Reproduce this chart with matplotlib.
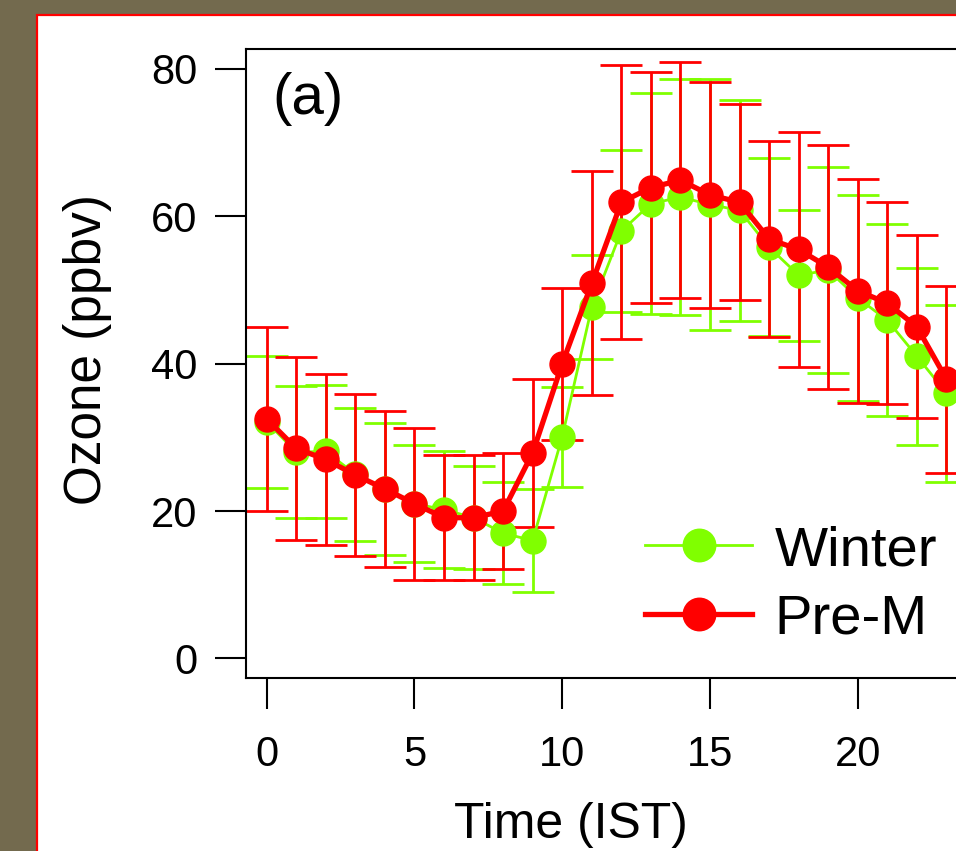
import matplotlib
matplotlib.use('Agg')
import matplotlib.pyplot as plt
from matplotlib.patches import Rectangle

plt.rcParams['font.family'] = ['Liberation Sans', 'DejaVu Sans']

# Diurnal ozone, hourly means and error bars (ppbv)
hours = list(range(24))
winter = [32.1, 28.0, 28.1, 25.0, 23.0, 21.0, 20.2, 19.1, 17.0, 16.0, 30.1, 47.7,
          58.0, 61.7, 62.6, 61.6, 60.8, 55.8, 52.0, 52.7, 48.9, 45.9, 41.0, 36.0]
winter_err = [9.0, 9.0, 9.0, 9.0, 8.9, 7.9, 7.9, 7.0, 6.9, 7.0, 6.8, 7.0,
              11.0, 15.0, 16.0, 17.0, 15.0, 12.1, 8.9, 14.0, 14.0, 13.0, 12.0, 12.0]
premon = [32.5, 28.5, 27.0, 24.9, 23.0, 21.0, 19.1, 19.1, 20.0, 27.9, 40.0, 50.9,
          61.9, 63.9, 64.9, 62.9, 61.9, 56.9, 55.5, 53.1, 49.9, 48.2, 45.0, 37.9]
premon_err = [12.5, 12.4, 11.6, 11.0, 10.6, 10.3, 8.5, 8.5, 7.9, 10.0, 10.3, 15.2,
              18.6, 15.7, 16.0, 15.3, 13.3, 13.3, 15.9, 16.6, 15.2, 13.7, 12.4, 12.7]
xticks = [0, 5, 10, 15, 20]
yticks = [0, 20, 40, 60, 80]

W, H = 956, 851
fig = plt.figure(figsize=(W / 100, H / 100), dpi=100, facecolor='#736A4E')

# white panel with red border, cut off at right and bottom
panel = Rectangle((37 / W, -0.1), 1.2, (H - 15) / H + 0.1,
                  transform=fig.transFigure, facecolor='white',
                  edgecolor='#FF0000', linewidth=1.6, zorder=-10)
fig.add_artist(panel)

ax_left, ax_right, ax_top, ax_bot = 246, 976, 49, 678
ax = fig.add_axes([ax_left / W, (H - ax_bot) / H,
                   (ax_right - ax_left) / W, (ax_bot - ax_top) / H])
ax.set_facecolor('none')

green = '#80FF00'
red = '#FF0000'
eb_w = ax.errorbar(hours, winter, yerr=winter_err, color=green, lw=2.0,
                   marker='o', ms=18, elinewidth=2.0, capsize=15, capthick=2.0)
eb_r = ax.errorbar(hours, premon, yerr=premon_err, color=red, lw=3.8,
                   marker='o', ms=18, elinewidth=2.0, capsize=15, capthick=2.0)

ax.set_xlim(-0.70, 24.0)
ax.set_ylim(-2.65, 82.7)
ax.set_xticks(xticks)
ax.set_yticks(yticks)
ax.tick_params(axis='both', direction='out', length=22, width=1.5,
               labelsize=30, color='black')
ax.tick_params(axis='x', pad=19)
ax.tick_params(axis='y', pad=13)
for s in ax.spines.values():
    s.set_linewidth(1.5)

ax.set_ylabel('Ozone (ppbv)', fontsize=37)
ax.set_xlabel('Time (IST)', fontsize=36)
aw, ah = ax_right - ax_left, ax_bot - ax_top
ax.yaxis.set_label_coords((88 - ax_left) / aw, (ax_bot - 350) / ah)
ax.xaxis.set_label_coords((571 - ax_left) / aw, (ax_bot - 825) / ah)
ax.xaxis.label.set_va('center')
ax.yaxis.label.set_va('center')

ax.text((272 - ax_left) / aw, (ax_bot - 72) / ah, '(a)', transform=ax.transAxes,
        fontsize=42, ha='left', va='top')

ax.legend([eb_w[0], eb_r[0]], ['Winter', 'Pre-M'], loc='upper left',
          bbox_to_anchor=(617 / W, (H - 497) / H), bbox_transform=fig.transFigure,
          frameon=False, fontsize=40.5, handlelength=1.9, handletextpad=0.4,
          labelspacing=0.3, borderpad=0, markerscale=1.3)

fig.savefig('out.png', dpi=100, facecolor=fig.get_facecolor())
